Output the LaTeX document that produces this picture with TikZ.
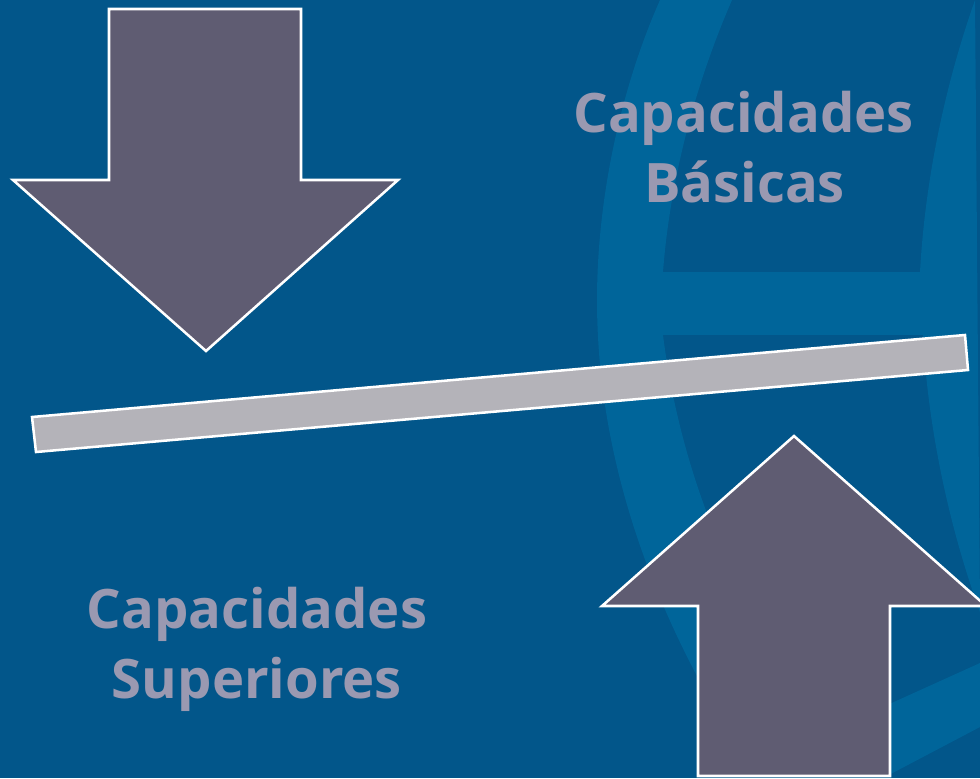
\documentclass[tikz,border=0pt]{standalone}
\usepackage{fontspec}
\setmainfont{Open Sans}
\definecolor{bgdark}{HTML}{02568A}
\definecolor{bglight}{HTML}{00659A}
\definecolor{arrowfill}{HTML}{5F5C72}
\definecolor{barfill}{HTML}{B4B3B9}
\definecolor{labelcol}{HTML}{9A99B1}
\tikzset{
  mark shape/.style={fill=bglight,draw=none},
  bigarrow/.style={fill=arrowfill,draw=white,line width=1.9pt,line join=miter},
  barshape/.style={fill=barfill,draw=white,line width=1.9pt,line join=miter},
  caplabel/.style={text=labelcol,font=\bfseries\fontsize{40.8}{48}\selectfont,anchor=base,inner sep=0pt}
}
\begin{document}
\begin{tikzpicture}[x=0.75pt,y=-0.75pt]
\useasboundingbox (0,0) rectangle (980,778);
\clip (0,0) rectangle (980,778);
\fill[bgdark] (0,0) rectangle (980,778);
% watermark
\path[mark shape] (660,0) .. controls (620,90) and (597,200) .. (597,300)
  .. controls (597,440) and (640,575) .. (710,700)
  -- (770,640)
  .. controls (730,580) and (680,470) .. (663,335)
  -- (663,272)
  .. controls (670,180) and (695,85) .. (732,0) -- cycle;
\path[mark shape] (663,272) rectangle (930,335);
\path[mark shape] (975,0) .. controls (945,85) and (925,180) .. (920,272)
  -- (923,335) .. controls (928,430) and (950,530) .. (980,612) -- cycle;
\path[mark shape] (885,706) -- (980,663) -- (980,727) -- (885,777) -- cycle;
% shapes
\draw[bigarrow] (109,9) -- (301,9) -- (301,180) -- (398,180) -- (206,351) -- (13,180) -- (109,180) -- cycle;
\draw[bigarrow] (794,436) -- (986,606) -- (890,606) -- (890,776) -- (698,776) -- (698,606) -- (602,606) -- cycle;
\draw[barshape] (32,417) -- (965,335) -- (968,370) -- (36,452) -- cycle;
% labels
\node[caplabel] (basicas1) at (743.5,132) {Capacidades};
\node[caplabel] (basicas2) at (744.5,202) {Básicas};
\node[caplabel] (sup1) at (257,628) {Capacidades};
\node[caplabel] (sup2) at (257,698) {Superiores};
\end{tikzpicture}
\end{document}
